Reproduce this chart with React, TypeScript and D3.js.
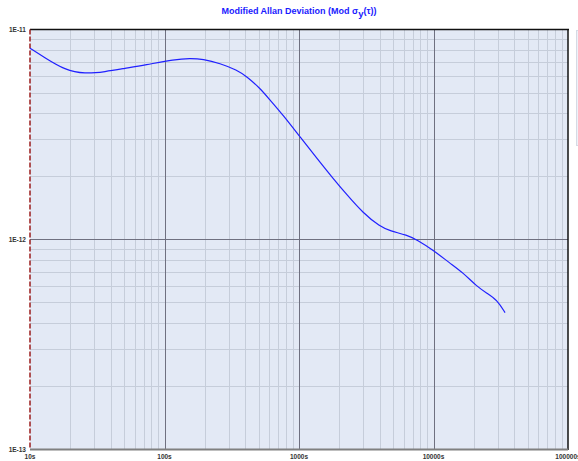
import React, { useRef, useEffect } from "react";
import * as d3 from "d3";

// averaging time (s) and modified Allan deviation
const taus = [
  10, 12.9, 18.2, 25.6, 36.1, 50.8, 71.6, 119.7, 154.8, 193, 258.6, 346, 410, 513, 609, 761,
  1016, 1361, 1790, 2276, 2993, 4000, 4753, 6353, 7540, 9910, 13270, 16560, 21040, 25000,
  29650, 34040,
];
const modAdev = [
  8.14e-12, 7.34e-12, 6.41e-12, 6.14e-12, 6.29e-12, 6.53e-12, 6.77e-12, 7.21e-12, 7.29e-12,
  7.23e-12, 6.9e-12, 6.41e-12, 5.96e-12, 5.25e-12, 4.61e-12, 3.91e-12, 3.08e-12, 2.43e-12,
  1.95e-12, 1.626e-12, 1.334e-12, 1.148e-12, 1.095e-12, 1.048e-12, 9.93e-13, 8.89e-13,
  7.68e-13, 6.93e-13, 5.95e-13, 5.53e-13, 5.14e-13, 4.47e-13,
];
const xTicks = [10, 100, 1000, 10000, 100000];
const xTickLabels = ["10s", "100s", "1000s", "10000s", "100000s"];
const yTicks = [1e-11, 1e-12, 1e-13];
const yTickLabels = ["1E-11", "1E-12", "1E-13"];

export default function App() {
  const svgRef = useRef<SVGSVGElement>(null);

  useEffect(() => {
    const width = 578;
    const height = 461;
    const marginTop = 29.5;
    const marginRight = 10;
    const marginBottom = 12;
    const marginLeft = 30;

    const x = d3.scaleLog()
      .domain([10, 100000])
      .range([marginLeft, width - marginRight]);
    const y = d3.scaleLog()
      .domain([1e-13, 1e-11])
      .range([height - marginBottom, marginTop]);

    const svg = d3.select(svgRef.current);
    svg.selectAll("*").remove();
    svg.attr("width", width).attr("height", height)
      .attr("viewBox", [0, 0, width, height].join(" "));

    const font = "Arial, 'Liberation Sans', sans-serif";

    // plot background
    svg.append("rect")
      .attr("x", x(10)).attr("y", y(1e-11))
      .attr("width", x(100000) - x(10))
      .attr("height", y(1e-13) - y(1e-11))
      .attr("fill", "#e3e9f5");

    // legend strip on the right, cut off by the window
    svg.append("rect")
      .attr("x", 576.5).attr("y", 30.5)
      .attr("width", 10).attr("height", 115)
      .attr("fill", "#eef1f8").attr("stroke", "#d6dae4");

    // minor grid
    const minorX: number[] = [];
    const minorY: number[] = [];
    for (let e = 1; e < 5; e++) for (let k = 2; k < 10; k++) minorX.push(k * 10 ** e);
    for (let e = -13; e < -11; e++) for (let k = 2; k < 10; k++) minorY.push(k * 10 ** e);

    const grid = svg.append("g").attr("shape-rendering", "crispEdges");
    grid.selectAll(".mx").data(minorX).join("line")
      .attr("x1", d => Math.round(x(d)) + 0.5).attr("x2", d => Math.round(x(d)) + 0.5)
      .attr("y1", y(1e-11)).attr("y2", y(1e-13))
      .attr("stroke", "#c6cdda").attr("stroke-width", 1);
    grid.selectAll(".my").data(minorY).join("line")
      .attr("y1", d => Math.round(y(d)) + 0.5).attr("y2", d => Math.round(y(d)) + 0.5)
      .attr("x1", x(10)).attr("x2", x(100000))
      .attr("stroke", "#c6cdda").attr("stroke-width", 1);

    // major grid
    grid.selectAll(".Mx").data(xTicks.slice(1, -1)).join("line")
      .attr("x1", d => Math.round(x(d)) + 0.5).attr("x2", d => Math.round(x(d)) + 0.5)
      .attr("y1", y(1e-11)).attr("y2", y(1e-13))
      .attr("stroke", "#6f7080").attr("stroke-width", 1);
    grid.selectAll(".My").data(yTicks.slice(1, -1)).join("line")
      .attr("y1", d => Math.round(y(d)) + 0.5).attr("y2", d => Math.round(y(d)) + 0.5)
      .attr("x1", x(10)).attr("x2", x(100000))
      .attr("stroke", "#6f7080").attr("stroke-width", 1);

    // frame: top and right black, bottom gray, left red dashed
    svg.append("line")
      .attr("x1", x(10)).attr("x2", x(100000) + 1)
      .attr("y1", y(1e-11)).attr("y2", y(1e-11))
      .attr("stroke", "#111").attr("stroke-width", 1.5);
    svg.append("line")
      .attr("x1", x(100000)).attr("x2", x(100000))
      .attr("y1", y(1e-11)).attr("y2", y(1e-13) + 1)
      .attr("stroke", "#111").attr("stroke-width", 1.5);
    svg.append("line")
      .attr("x1", x(10)).attr("x2", x(100000))
      .attr("y1", y(1e-13) + 0.5).attr("y2", y(1e-13) + 0.5)
      .attr("stroke", "#808080").attr("stroke-width", 2);
    svg.append("line")
      .attr("x1", x(10)).attr("x2", x(10))
      .attr("y1", y(1e-11)).attr("y2", y(1e-13))
      .attr("stroke", "#9a1c1c").attr("stroke-width", 1.5)
      .attr("stroke-dasharray", "5,2");

    // curve
    const pts = taus.map((t, i) => [t, modAdev[i]] as [number, number]);
    const line = d3.line<[number, number]>()
      .x(d => x(d[0]))
      .y(d => y(d[1]))
      .curve(d3.curveBasis);
    svg.append("path")
      .attr("d", line(pts))
      .attr("fill", "none")
      .attr("stroke", "#2020ff")
      .attr("stroke-width", 1.2);

    // tick labels
    svg.append("g").selectAll("text").data(xTicks).join("text")
      .attr("x", d => x(d))
      .attr("y", height - 2)
      .attr("text-anchor", "middle")
      .attr("font-family", font).attr("font-size", 6.5).attr("font-weight", "bold")
      .attr("fill", "#333")
      .text((d, i) => xTickLabels[i]);
    svg.append("g").selectAll("text").data(yTicks).join("text")
      .attr("x", marginLeft - 4)
      .attr("y", d => y(d) + 2.5)
      .attr("text-anchor", "end")
      .attr("font-family", font).attr("font-size", 6.5).attr("font-weight", "bold")
      .attr("fill", "#333")
      .text((d, i) => yTickLabels[i]);

    // title
    const title = svg.append("text")
      .attr("x", (x(10) + x(100000)) / 2)
      .attr("y", 14)
      .attr("text-anchor", "middle")
      .attr("font-family", font).attr("font-size", 9).attr("font-weight", "bold")
      .attr("fill", "#1a1aff");
    title.append("tspan").text("Modified Allan Deviation (Mod σ");
    title.append("tspan").attr("dy", 3).attr("font-size", 9.5).text("y");
    title.append("tspan").attr("dy", -3).text("(τ))");
  }, []);

  return (
    <div>
      <svg ref={svgRef} style={{ position: "absolute", left: 0, top: 0 }}></svg>
    </div>
  );
}
